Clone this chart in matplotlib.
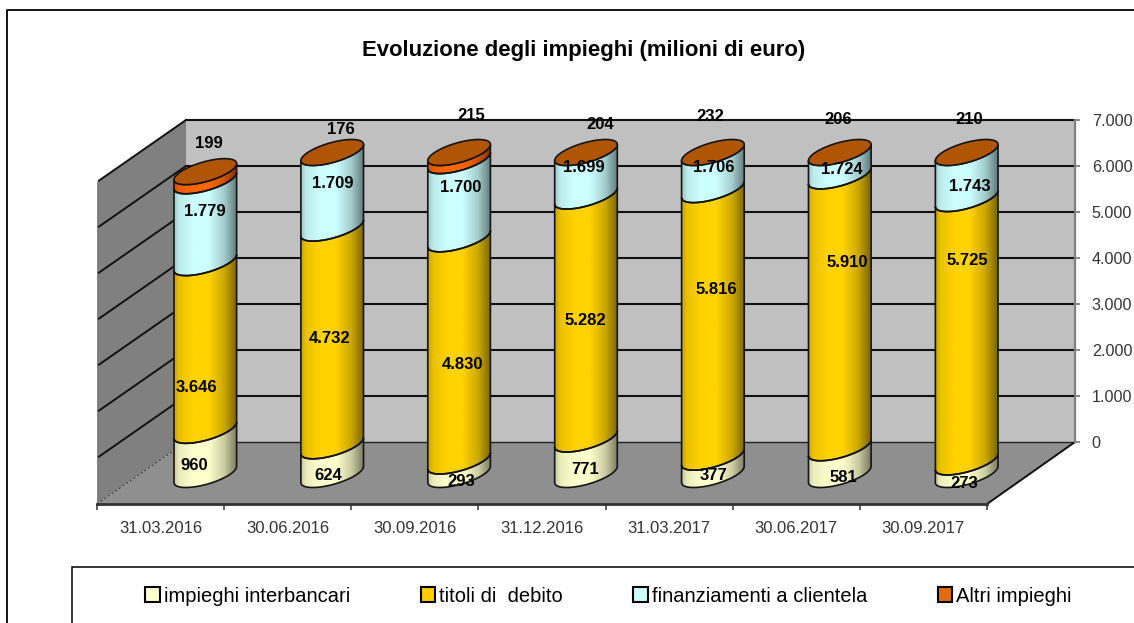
import numpy as np
import matplotlib
matplotlib.use("Agg")
import matplotlib.pyplot as plt
from matplotlib.patches import PathPatch, Patch, Polygon, Rectangle
from matplotlib.path import Path

plt.rcParams['font.family'] = ['Liberation Sans', 'DejaVu Sans']

# ---------- data ----------
dates = ["31.03.2016", "30.06.2016", "30.09.2016", "31.12.2016",
         "31.03.2017", "30.06.2017", "30.09.2017"]
interbancari = [960, 624, 293, 771, 377, 581, 273]
titoli = [3646, 4732, 4830, 5282, 5816, 5910, 5725]
finanziamenti = [1779, 1709, 1700, 1699, 1706, 1724, 1743]
altri = [199, 176, 215, 204, 232, 206, 210]
series_names = ["impieghi interbancari", "titoli di  debito",
                "finanziamenti a clientela", "Altri impieghi"]
value_ticks = [0, 1000, 2000, 3000, 4000, 5000, 6000, 7000]
axis_max = 7000

# ---------- layout (pixels) ----------
W, H = 1134, 623
CX0, CSTEP = 205.3, 126.9     # bar centres
Y0, PXV = 474.5, 0.046        # zero of the bar plane, px per unit
BACK_L, BACK_R, BACK_Y0 = 186, 1075, 442
FRONT_L, FRONT_R, FRONT_Y = 97, 987, 504
series_colors = ["#FFFFCC", "#FFD200", "#CCFFFF", "#FF6600"]
top_face = "#B05504"
legend_colors = ["#FFFFCC", "#FFCC00", "#CCFFFF", "#E36C09"]

# hand-placed label centres in the reference (pixels)
label_px = [
    [(194, 465), (328, 475), (461, 481), (585, 469), (713, 475), (843, 477), (964, 483)],
    [(196, 387), (330, 338), (462, 364), (585, 320), (716, 289), (847, 262), (967, 260)],
    [(205, 211), (333, 183), (461, 187), (584, 167), (714, 167), (842, 169), (970, 186)],
    [(209, 143), (341, 129), (471, 115), (600, 124), (710, 116), (838, 119), (969, 119)],
]

fig = plt.figure(figsize=(W / 100, H / 100), dpi=100, facecolor="white")
ax = fig.add_axes([0, 0, 1, 1], zorder=2)
ax.set_xlim((0 - CX0) / CSTEP, (W - CX0) / CSTEP)
ax.set_ylim((Y0 - H) / PXV, Y0 / PXV)
ax.set_autoscale_on(False)
ax.axis("off")


def dx(px):
    return (px - CX0) / CSTEP


def dy(px):
    return (Y0 - px) / PXV


def poly(pts, **kw):
    ax.add_patch(Polygon([(dx(x), dy(y)) for x, y in pts], closed=True, **kw))


def back_y(v):
    return BACK_Y0 - v * PXV


# frames
ax.plot([dx(7), dx(7), dx(W + 5)], [dy(H + 5), dy(10), dy(10)], color="black", lw=1.3, zorder=1, clip_on=False)
ax.add_patch(Rectangle((dx(72), dy(H + 10)), dx(W + 10) - dx(72), dy(567) - dy(H + 10),
                       fc="white", ec="black", lw=1.1, zorder=1))

# walls and floor
drop = FRONT_Y - BACK_Y0
top_y = back_y(axis_max)
poly([(BACK_L, top_y), (BACK_R, top_y), (BACK_R, BACK_Y0), (BACK_L, BACK_Y0)], fc="#C0C0C0", ec="none", zorder=1)
poly([(FRONT_L, top_y + drop), (BACK_L, top_y), (BACK_L, BACK_Y0), (FRONT_L, FRONT_Y)], fc="#808080", ec="none", zorder=1)
poly([(FRONT_L, FRONT_Y), (BACK_L, BACK_Y0), (BACK_R, BACK_Y0), (FRONT_R, FRONT_Y)], fc="#8F8F8F", ec="none", zorder=1)
for v in value_ticks:
    y = back_y(v)
    if v == 0:
        ax.plot([dx(BACK_L), dx(BACK_R)], [dy(y)] * 2, color="#222222", lw=1.0, zorder=1.5)
        ax.plot([dx(FRONT_L), dx(BACK_L)], [dy(FRONT_Y), dy(y)], color="#444444", lw=0.8, ls=(0, (2, 2)), zorder=1.5)
    else:
        ax.plot([dx(BACK_L), dx(BACK_R)], [dy(y)] * 2, color="#111111", lw=1.5, zorder=1.5)
        ax.plot([dx(FRONT_L + 2), dx(BACK_L)], [dy(y + drop - 1.4), dy(y)], color="#111111", lw=1.4, zorder=1.5)
ax.plot([dx(BACK_R), dx(FRONT_R)], [dy(BACK_Y0), dy(FRONT_Y)], color="#111111", lw=1.4, zorder=1.6)

# cylinder geometry (oblique projection of a circle)
Ux, Ax, B = 24.5 / CSTEP, 19.5 / CSTEP, 13.0 / PXV
T0 = np.arctan2(Ax, Ux)
profile_x = [0.0, 0.08, 0.3, 0.55, 0.8, 1.0]
profile_m = [0.78, 0.92, 1.0, 1.0, 0.8, 0.48]


def ell(cx, v, t):
    return cx + Ux * np.cos(t) + Ax * np.sin(t), v + B * np.sin(t)


def body_path(cx, v0, v1):
    t = np.linspace(T0 + np.pi, T0 + 2 * np.pi, 50)   # front arc, left to right
    xb, yb = ell(cx, v0, t)
    xt, yt = ell(cx, v1, t[::-1])
    verts = np.column_stack([np.r_[xb, xt, xb[0]], np.r_[yb, yt, yb[0]]])
    codes = [Path.MOVETO] + [Path.LINETO] * (len(verts) - 2) + [Path.CLOSEPOLY]
    return Path(verts, codes)


def gradient(color):
    rgb = np.array(matplotlib.colors.to_rgb(color))
    s = np.linspace(0, 1, 128)
    m = np.interp(s, profile_x, profile_m)
    return (m[:, None] * rgb)[None, :, :]


stack = [interbancari, titoli, finanziamenti, altri]
half = np.hypot(Ux, Ax)
for i in range(len(dates)):
    cx = float(i)
    bottom = 0
    for vals, col in zip(stack, series_colors):
        top = bottom + vals[i]
        v0, v1 = min(bottom, axis_max), min(top, axis_max)
        bottom = top
        if v1 <= v0:
            continue
        path = body_path(cx, v0, v1)
        im = ax.imshow(gradient(col), extent=[cx - half, cx + half, v0 - B, v1 + B],
                       aspect="auto", interpolation="bilinear", zorder=3, origin="lower")
        patch = PathPatch(path, transform=ax.transData, fc="none", ec="none")
        ax.add_patch(patch)
        im.set_clip_path(patch)
        ax.add_patch(PathPatch(path, fc="none", ec="#151515", lw=1.2, zorder=3.1))
    v_top = min(bottom, axis_max)
    t = np.linspace(0, 2 * np.pi, 100)
    xe, ye = ell(cx, v_top, t)
    ax.fill(xe, ye, fc=top_face, ec="#151515", lw=1.2, zorder=3.2)

# data labels
for vals, places in zip(stack, label_px):
    for v, (x, y) in zip(vals, places):
        ax.text(dx(x), dy(y), f"{v:,}".replace(",", "."), ha="center", va="center",
                fontsize=12, fontweight="bold", color="black", zorder=5)

# value axis
ax2 = fig.add_axes([BACK_R / W, 1 - BACK_Y0 / H, 0.0001, (BACK_Y0 - top_y) / H], zorder=3)
ax2.patch.set_alpha(0)
ax2.set_ylim(0, axis_max)
ax2.set_xticks([])
ax2.yaxis.tick_right()
ax2.set_yticks(value_ticks)
ax2.set_yticklabels([f"{v:,}".replace(",", ".") for v in value_ticks], fontsize=11.6, color="#333333")
ax2.tick_params(axis="y", length=3.6, width=1.3, color="#808080", pad=8.4)
for name, s in ax2.spines.items():
    s.set_visible(False)
ax2.spines["left"].set_visible(True)
ax2.spines["left"].set_color("#808080")
ax2.spines["left"].set_linewidth(1.6)

# category axis
ax3 = fig.add_axes([FRONT_L / W, 1 - FRONT_Y / H, (FRONT_R - FRONT_L) / W, 0.0001], zorder=3)
ax3.patch.set_alpha(0)
ax3.set_xlim(0, len(dates))
ax3.set_yticks([])
ax3.set_xticks(np.arange(len(dates) + 1))
ax3.set_xticklabels([])
ax3.set_xticks(np.arange(len(dates)) + 0.5, minor=True)
ax3.set_xticklabels(dates, minor=True, fontsize=12, color="#333333")
ax3.tick_params(axis="x", which="major", length=4, width=1.1, color="#333333")
ax3.tick_params(axis="x", which="minor", length=0, pad=12)
for name, s in ax3.spines.items():
    s.set_visible(name == "bottom")
ax3.spines["bottom"].set_color("#333333")
ax3.spines["bottom"].set_linewidth(2)

# title
fig.text(584 / W, 1 - 50.5 / H, "Evoluzione degli impieghi (milioni di euro)", ha="center", va="center",
         fontsize=15.9, fontweight="bold", color="black")

# legend
handles = [Patch(fc=c, ec="black", lw=1.5, label=n) for c, n in zip(legend_colors, series_names)]
ax.legend(handles=handles, loc="center", bbox_to_anchor=(608.5 / W, 1 - 596 / H), bbox_transform=fig.transFigure,
          ncol=4, frameon=False, fontsize=14.5, handlelength=0.72, handleheight=0.72,
          handletextpad=0.2, columnspacing=3.5, borderpad=0, borderaxespad=0).set_zorder(6)

fig.savefig("out.png", dpi=100)
